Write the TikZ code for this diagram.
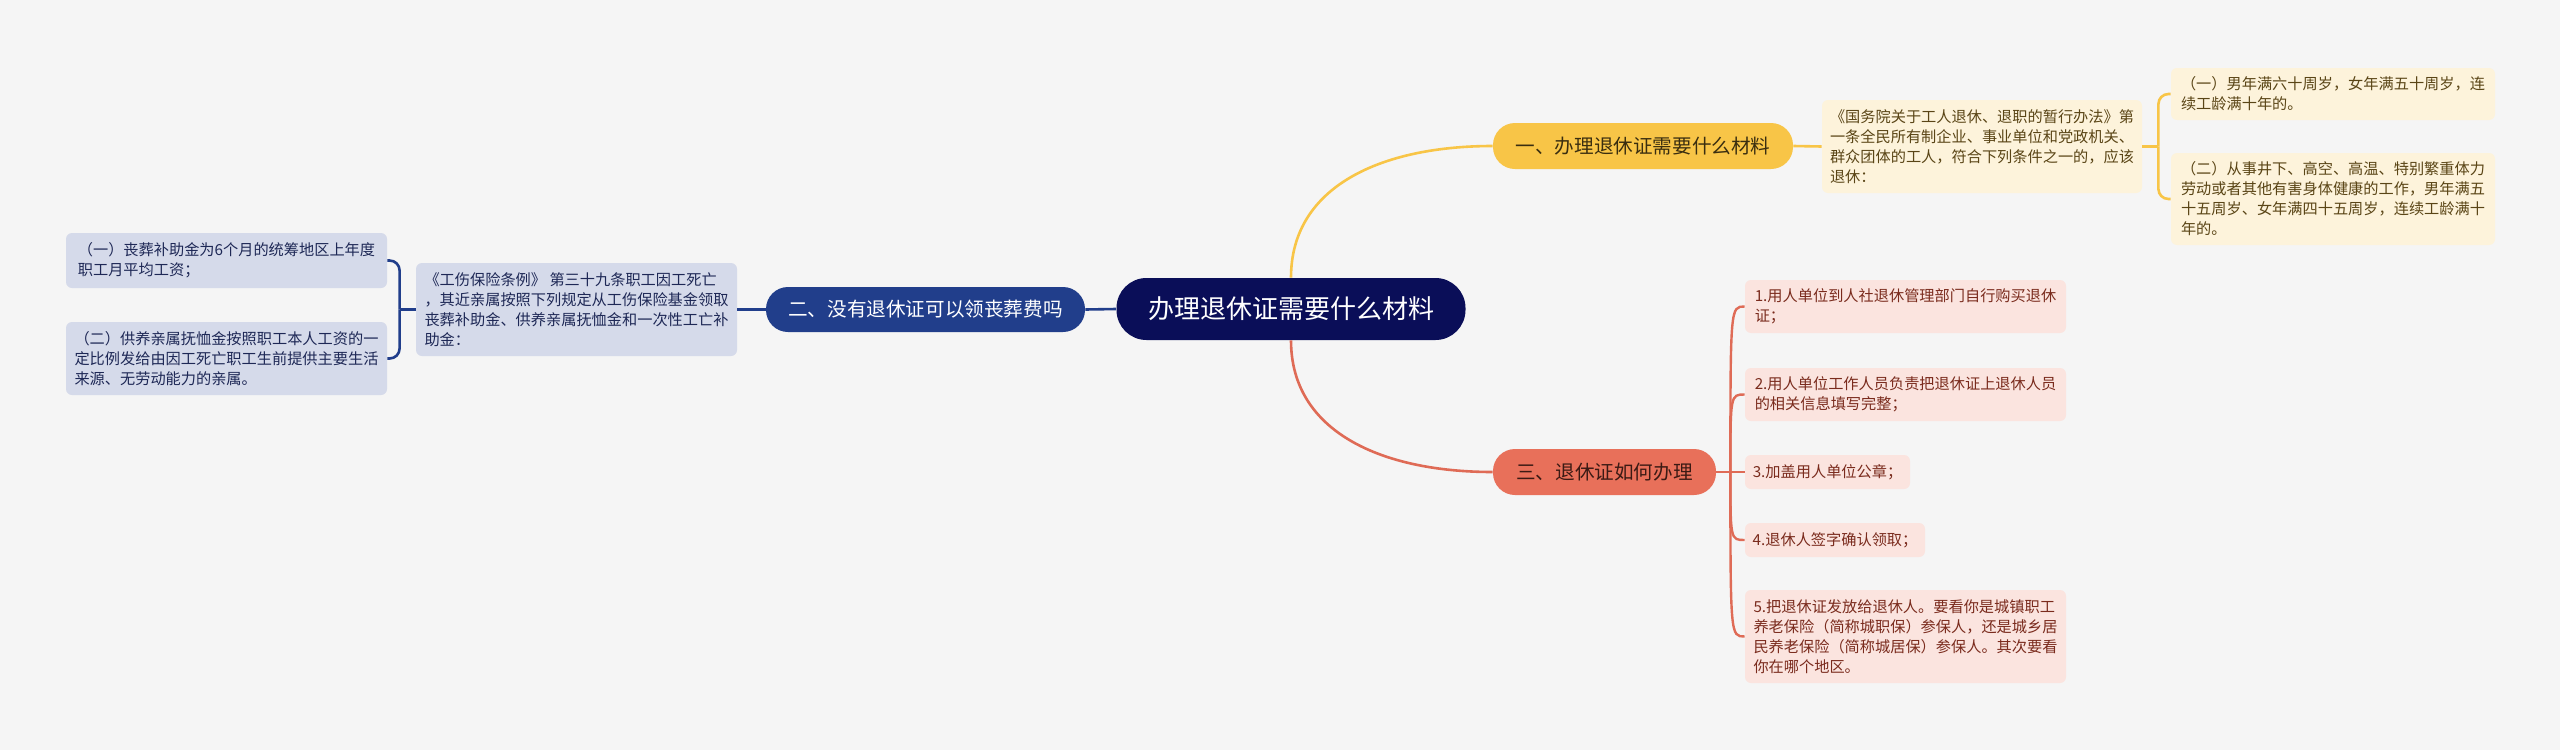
\documentclass[tikz,border=0pt]{standalone}
\usepackage{fontspec}
\setmainfont{Noto Sans CJK SC}
\usetikzlibrary{calc}
\definecolor{bg}{HTML}{F5F5F5}
\definecolor{rootc}{HTML}{0A0E58}
\definecolor{yel}{HTML}{F8C547}
\definecolor{yelleaf}{HTML}{FDF3DB}
\definecolor{yeltext}{HTML}{5A4516}
\definecolor{yeldark}{HTML}{3A2E10}
\definecolor{blu}{HTML}{213E8B}
\definecolor{bluleaf}{HTML}{D5DAEA}
\definecolor{blutext}{HTML}{1E2856}
\definecolor{redc}{HTML}{E8705A}
\definecolor{redleaf}{HTML}{FBE4DF}
\definecolor{redtext}{HTML}{7A2B1D}
\definecolor{reddark}{HTML}{3B1A14}
\definecolor{redline}{HTML}{DF6B56}
\begin{document}
\begin{tikzpicture}[x=0.5pt,y=-0.5pt,
  rootbox/.style={fill=rootc,text=white,rounded corners=15pt,inner sep=0pt,font=\fontsize{13}{15}\selectfont},
  branch/.style={rounded corners=11pt,inner sep=0pt,font=\fontsize{9.8}{12}\selectfont},
  leaf/.style={rounded corners=3pt,inner sep=0pt,align=left,font=\fontsize{7.6}{10}\selectfont},
  yleaf/.style={leaf,fill=yelleaf,text=yeltext},
  bleaf/.style={leaf,fill=bluleaf,text=blutext},
  rleaf/.style={leaf,fill=redleaf,text=redtext},
  yline/.style={draw=yel,line width=1.3pt},
  bline/.style={draw=blu,line width=1.3pt},
  rline/.style={draw=redline,line width=1.2pt}]
\fill[bg] (0,0) rectangle (2560,750);
\useasboundingbox (0,0) rectangle (2560,750);

% root
\node[rootbox,minimum width=174.5pt,minimum height=31pt] (root) at (1291,309) {办理退休证需要什么材料};

% branches
\node[branch,fill=yel,text=yeldark,minimum width=150pt,minimum height=23pt] (b1) at (1643,146) {一、办理退休证需要什么材料};
\node[branch,fill=blu,text=white,minimum width=159.5pt,minimum height=22.5pt] (b2) at (925.5,309.5) {二、没有退休证可以领丧葬费吗};
\node[branch,fill=redc,text=reddark,minimum width=111.5pt,minimum height=23pt] (b3) at (1604.5,472) {三、退休证如何办理};

% yellow side
\node[yleaf,minimum width=160pt,minimum height=46.5pt] (t1) at (1982,146.5) {《国务院关于工人退休、退职的暂行办法》第\\一条全民所有制企业、事业单位和党政机关、\\群众团体的工人，符合下列条件之一的，应该\\退休：};
\node[yleaf,minimum width=162pt,minimum height=26pt] (y1) at (2333,94) {（一）男年满六十周岁，女年满五十周岁，连\\续工龄满十年的。};
\node[yleaf,minimum width=162pt,minimum height=46pt] (y2) at (2333,199) {（二）从事井下、高空、高温、特别繁重体力\\劳动或者其他有害身体健康的工作，男年满五\\十五周岁、女年满四十五周岁，连续工龄满十\\年的。};

% blue side
\node[bleaf,minimum width=160.5pt,minimum height=46.5pt] (t2) at (576.5,309.5) {《工伤保险条例》 第三十九条职工因工死亡\\，其近亲属按照下列规定从工伤保险基金领取\\丧葬补助金、供养亲属抚恤金和一次性工亡补\\助金：};
\node[bleaf,minimum width=160.5pt,minimum height=27.5pt] (L1) at (226.5,260.5) {（一）丧葬补助金为6个月的统筹地区上年度\\职工月平均工资；};
\node[bleaf,minimum width=160.5pt,minimum height=36.5pt] (L2) at (226.5,358.5) {（二）供养亲属抚恤金按照职工本人工资的一\\定比例发给由因工死亡职工生前提供主要生活\\来源、无劳动能力的亲属。};

% red side
\node[rleaf,minimum width=160.5pt,minimum height=26.5pt] (R1) at (1905.5,306.5) {1.用人单位到人社退休管理部门自行购买退休\\证；};
\node[rleaf,minimum width=160.5pt,minimum height=26.5pt] (R2) at (1905.5,394.5) {2.用人单位工作人员负责把退休证上退休人员\\的相关信息填写完整；};
\node[rleaf,minimum width=82.5pt,minimum height=17pt] (R3) at (1827.5,472) {3.加盖用人单位公章；};
\node[rleaf,minimum width=90pt,minimum height=17pt] (R4) at (1835,540) {4.退休人签字确认领取；};
\node[rleaf,minimum width=160.5pt,minimum height=46.5pt] (R5) at (1905.5,636.5) {5.把退休证发放给退休人。要看你是城镇职工\\养老保险（简称城职保）参保人，还是城乡居\\民养老保险（简称城居保）参保人。其次要看\\你在哪个地区。};

% connectors root
\draw[yline] (root.north) .. controls +(0,-92) and +(-110,0) .. (b1.west);
\draw[rline,line width=1.3pt] (root.south) .. controls +(0,92) and +(-110,0) .. (b3.west);
\draw[bline] (root.west) -- (b2.east);

% yellow
\coordinate (ky) at ($(t1.east)+(16,0)$);
\draw[yline] (b1.east) -- (t1.west);
\draw[yline] (t1.east) -- (ky);
\draw[yline,rounded corners=5pt] (ky) |- (y1.west);
\draw[yline,rounded corners=5pt] (ky) |- (y2.west);

% blue
\coordinate (kb) at ($(t2.west)+(-16,0)$);
\draw[bline] (b2.west) -- (t2.east);
\draw[bline] (t2.west) -- (kb);
\draw[bline,rounded corners=5pt] (kb) |- (L1.east);
\draw[bline,rounded corners=5pt] (kb) |- (L2.east);

% red
\coordinate (kr) at ($(b3.east)+(14,0)$);
\draw[rline] (b3.east) -- (kr);
\draw[rline] (kr) .. controls (kr |- R1.west) and (kr |- R1.west) .. (R1.west);
\draw[rline] (kr) .. controls (kr |- R2.west) and (kr |- R2.west) .. (R2.west);
\draw[rline] (kr) -- (R3.west);
\draw[rline] (kr) .. controls (kr |- R4.west) and (kr |- R4.west) .. (R4.west);
\draw[rline] (kr) .. controls (kr |- R5.west) and (kr |- R5.west) .. (R5.west);
\end{tikzpicture}
\end{document}
